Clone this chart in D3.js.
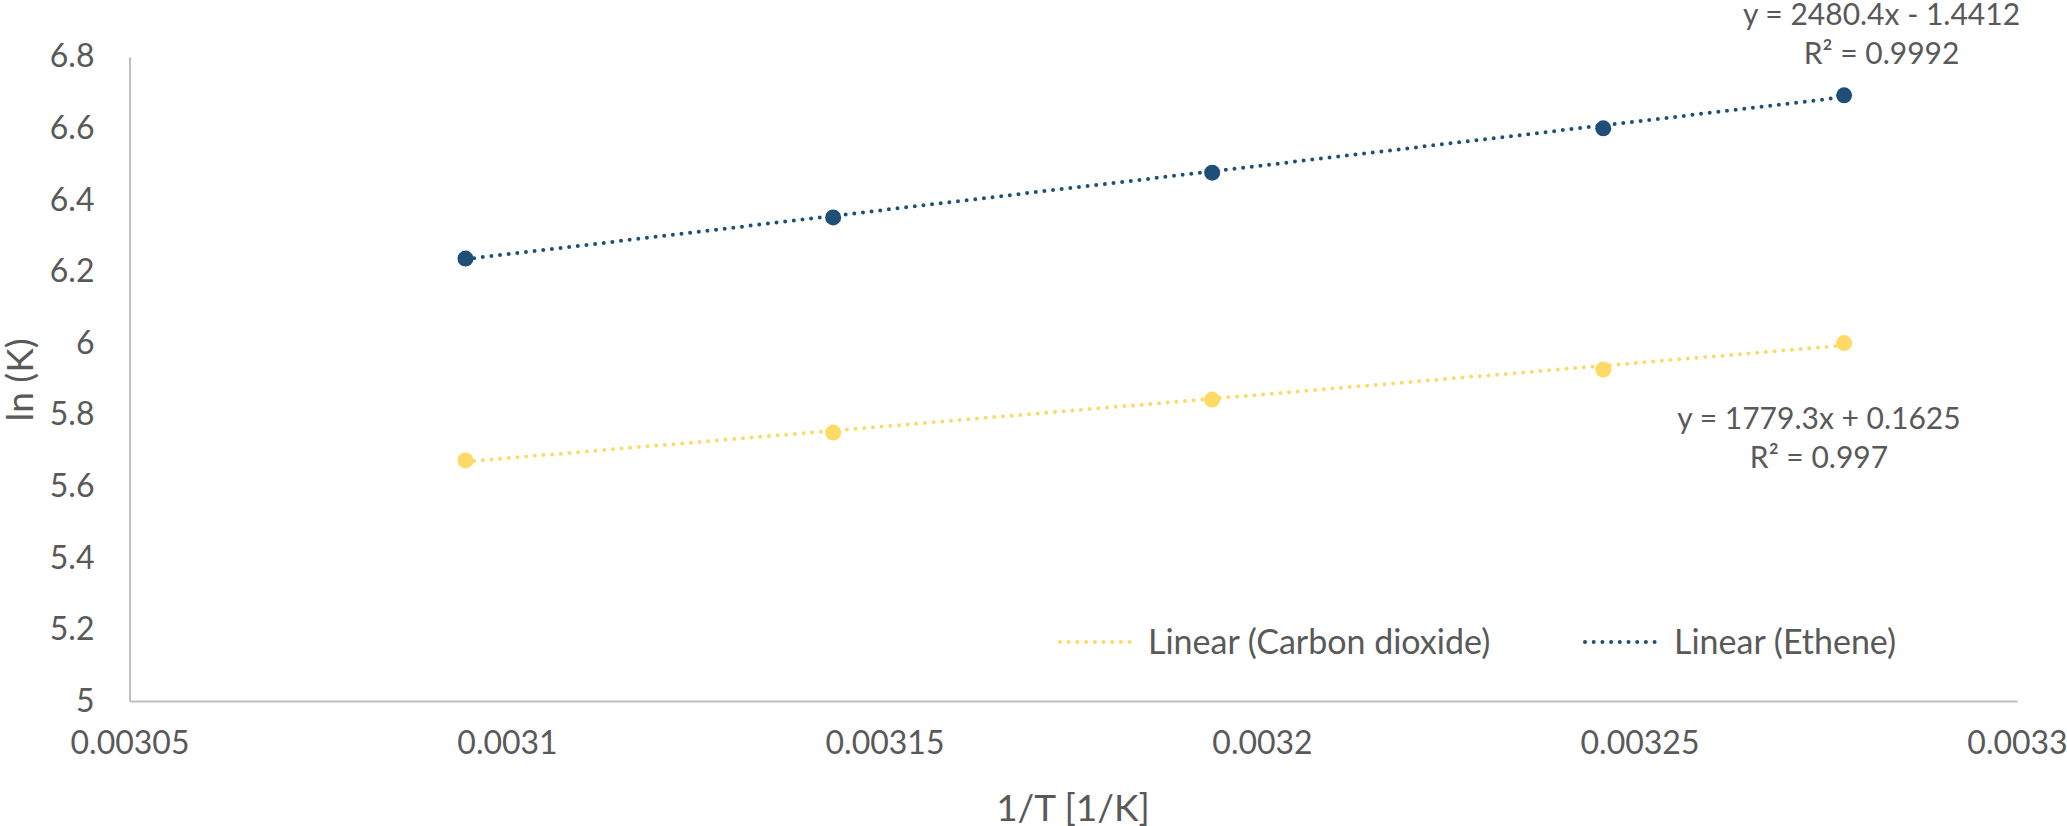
<!DOCTYPE html>
<html><head><meta charset="utf-8">
<script src="https://cdn.jsdelivr.net/npm/d3@7"></script>
<style>
html,body{margin:0;padding:0;background:#fff;}
text{font-family:Lato,"Open Sans",sans-serif;fill:#595959;}
</style></head>
<body><svg id="c" width="2067" height="826"></svg>
<script>
// ---- data ----
const invT = [0.0030945, 0.0031432, 0.0031934, 0.0032452, 0.0032771];
const co2 = [5.672, 5.750, 5.842, 5.926, 6.000];
const ethene = [6.236, 6.351, 6.476, 6.600, 6.692];
const co2Fit = {slope: 1779.3, intercept: 0.1625, r2: "0.997"};
const etheneFit = {slope: 2480.4, intercept: -1.4412, r2: "0.9992"};
const xTicks = [0.00305, 0.0031, 0.00315, 0.0032, 0.00325, 0.0033];
const xTickLabels = ["0.00305", "0.0031", "0.00315", "0.0032", "0.00325", "0.0033"];
const yTicks = [5, 5.2, 5.4, 5.6, 5.8, 6, 6.2, 6.4, 6.6, 6.8];
const yTickLabels = ["5", "5.2", "5.4", "5.6", "5.8", "6", "6.2", "6.4", "6.6", "6.8"];
const legendLabels = ["Linear (Carbon dioxide)", "Linear (Ethene)"];
const xTitle = "1/T [1/K]";
const yTitle = "ln (K)";

// ---- layout ----
const svg = d3.select("#c");
const mLeft = 129.5, mRight = 2017, mTop = 56.7, mBottom = 701;
const x = d3.scaleLinear().domain([0.00305, 0.0033]).range([mLeft, mRight]);
const y = d3.scaleLinear().domain([5, 6.8]).range([mBottom, mTop]);
const colCO2 = "#ffd966", colEth = "#1f4e79";

// axes
const xAxis = d3.axisBottom(x).tickValues(xTicks).tickFormat((d,i)=>xTickLabels[i]).tickSize(0).tickPadding(30);
const gx = svg.append("g").attr("transform", `translate(0,${mBottom})`).call(xAxis);
gx.select(".domain").attr("stroke", "#bfbfbf").attr("stroke-width", 2);
gx.selectAll("text").style("font-size", "32px").attr("fill", "#595959").attr("font-family", "Lato");

const yAxis = d3.axisLeft(y).tickValues(yTicks).tickFormat((d,i)=>yTickLabels[i]).tickSize(0).tickPadding(35);
const gy = svg.append("g").attr("transform", `translate(${mLeft},0)`).call(yAxis);
gy.select(".domain").attr("stroke", "#bfbfbf").attr("stroke-width", 2);
gy.selectAll("text").style("font-size", "32px").attr("fill", "#595959").attr("font-family", "Lato");

// trendlines
function trend(fit, col) {
  const xs = [d3.min(invT), d3.max(invT)];
  svg.append("line")
    .attr("x1", x(xs[0])).attr("y1", y(fit.slope * xs[0] + fit.intercept))
    .attr("x2", x(xs[1])).attr("y2", y(fit.slope * xs[1] + fit.intercept))
    .attr("stroke", col).attr("stroke-width", 4).attr("stroke-linecap", "round")
    .attr("stroke-dasharray", "0 8.7");
}
trend(co2Fit, colCO2);
trend(etheneFit, colEth);

// markers
function pts(vals, col) {
  svg.append("g").selectAll("circle").data(vals).join("circle")
    .attr("cx", (d,i)=>x(invT[i])).attr("cy", d=>y(d)).attr("r", 8).attr("fill", col);
}
pts(co2, colCO2);
pts(ethene, colEth);

// equation labels
function eq(fit, cx, cy) {
  const sign = fit.intercept < 0 ? "-" : "+";
  svg.append("text").attr("x", cx).attr("y", cy).attr("dy", "0.35em").attr("text-anchor", "middle")
    .style("font-size", "30px")
    .text(`y = ${fit.slope}x ${sign} ${Math.abs(fit.intercept)}`);
  svg.append("text").attr("x", cx).attr("y", cy + 39).attr("dy", "0.35em").attr("text-anchor", "middle")
    .style("font-size", "30px")
    .text(`R\u00B2 = ${fit.r2}`);
}
eq(etheneFit, 1881.5, 14);
eq(co2Fit, 1819, 418);

// legend
const leg = [{c: colCO2, sx: 1060, tx: 1148, label: legendLabels[0]},
             {c: colEth, sx: 1585, tx: 1674, label: legendLabels[1]}];
const ly = 642;
leg.forEach(l => {
  svg.append("line").attr("x1", l.sx).attr("x2", l.sx + 73).attr("y1", ly).attr("y2", ly)
    .attr("stroke", l.c).attr("stroke-width", 4).attr("stroke-linecap", "round").attr("stroke-dasharray", "0 8.7");
  svg.append("text").attr("x", l.tx).attr("y", ly).attr("dy", "0.35em").style("font-size", "34px").text(l.label);
});

// axis titles
svg.append("text").attr("x", 1073).attr("y", 808).attr("dy", "0.35em")
  .attr("text-anchor", "middle").style("font-size", "37px").text(xTitle);
svg.append("text").attr("transform", `translate(20,380) rotate(-90)`).attr("dy", "0.35em")
  .attr("text-anchor", "middle").style("font-size", "37px").text(yTitle);
</script>
</body></html>
